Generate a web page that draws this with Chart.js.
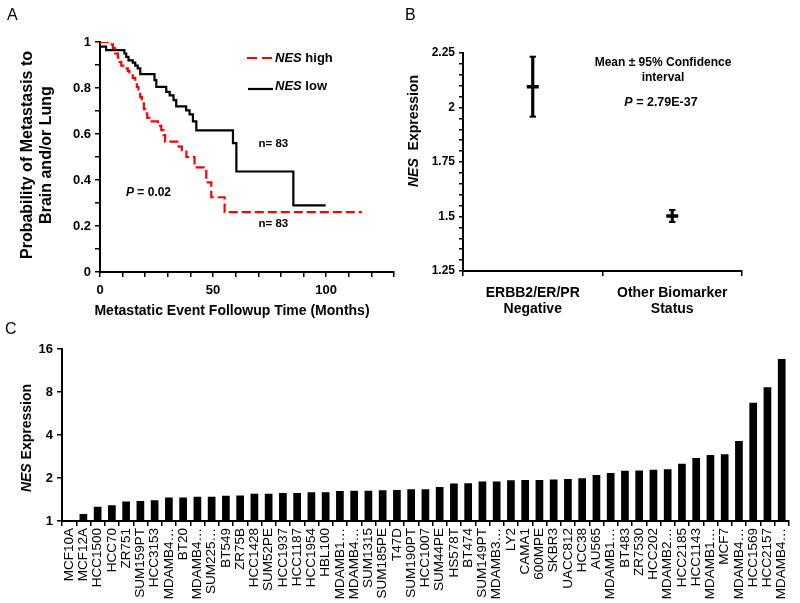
<!DOCTYPE html>
<html><head><meta charset="utf-8">
<script src="https://cdn.jsdelivr.net/npm/chart.js@4.4.1/dist/chart.umd.min.js"></script>
<style>
html,body{margin:0;padding:0;background:#fff;}
#wrap{position:relative;width:800px;height:603px;overflow:hidden;background:#fff;}
canvas{position:absolute;display:block;}
</style></head><body>
<div id="wrap">
<canvas id="cA" width="400" height="318" style="left:0;top:0;width:400px;height:318px"></canvas>
<canvas id="cB" width="400" height="318" style="left:400px;top:0;width:400px;height:318px"></canvas>
<canvas id="cC" width="800" height="285" style="left:0;top:318px;width:800px;height:285px"></canvas>
</div>
<script>
// ---------- Panel A data (Kaplan-Meier steps) ----------
const kmHighTime = [0, 4.2, 5.7, 6.7, 7.9, 8.6, 9.4, 10.8, 12.3, 13, 14.5, 15.6, 16.3, 17, 17.8, 18.5, 19.4, 20, 20.9, 21.9, 25.6, 27.1, 28.1, 28.8, 34.8, 36.2, 38.2, 41.8, 47, 49.2, 55.1, 115.8];
const kmHighProb = [1, 0.99, 0.973, 0.95, 0.932, 0.914, 0.897, 0.885, 0.874, 0.86, 0.844, 0.827, 0.805, 0.78, 0.76, 0.74, 0.708, 0.69, 0.67, 0.655, 0.635, 0.617, 0.595, 0.567, 0.545, 0.53, 0.5, 0.455, 0.39, 0.325, 0.26, 0.26];
const kmLowTime = [0, 2.7, 10.8, 11.6, 12.6, 14.5, 15.6, 16.7, 17.8, 24.1, 24.9, 29.3, 30.8, 32.5, 33.7, 38.1, 39.6, 41.1, 42.6, 58.8, 60.3, 85.5, 99.8];
const kmLowProb = [0.98, 0.965, 0.95, 0.935, 0.92, 0.91, 0.897, 0.885, 0.86, 0.834, 0.805, 0.783, 0.768, 0.747, 0.72, 0.703, 0.685, 0.655, 0.616, 0.56, 0.437, 0.29, 0.29];

// ---------- Panel B data ----------
const bCategories = [['ERBB2/ER/PR', 'Negative'], ['Other Biomarker', 'Status']];
const bMean = [2.095, 1.502];
const bLow = [1.958, 1.475];
const bHigh = [2.233, 1.53];

// ---------- Panel C data ----------
const cLines = ['MCF10A','MCF12A','HCC1500','HCC70','ZR751','SUM159PT','HCC3153','MDAMB4\u2026','BT20','MDAMB4\u2026','SUM225\u2026','BT549','ZR75B','HCC1428','SUM52PE','HCC1937','HCC1187','HCC1954','HBL100','MDAMB1\u2026','MDAMB4\u2026','SUM1315','SUM185PE','T47D','SUM190PT','HCC1007','SUM44PE','HS578T','BT474','SUM149PT','MDAMB3\u2026','LY2','CAMA1','600MPE','SKBR3','UACC812','HCC38','AU565','MDAMB1\u2026','BT483','ZR7530','HCC202','MDAMB2\u2026','HCC2185','HCC1143','MDAMB1\u2026','MCF7','MDAMB4\u2026','HCC1569','HCC2157','MDAMB4\u2026'];
const cValues = [1.0, 1.12, 1.26, 1.29, 1.37, 1.38, 1.40, 1.46, 1.46, 1.48, 1.48, 1.50, 1.51, 1.55, 1.55, 1.57, 1.57, 1.59, 1.59, 1.62, 1.63, 1.63, 1.64, 1.65, 1.67, 1.67, 1.73, 1.83, 1.84, 1.89, 1.89, 1.93, 1.94, 1.94, 1.95, 1.97, 1.99, 2.10, 2.17, 2.25, 2.26, 2.28, 2.30, 2.52, 2.76, 2.90, 2.93, 3.63, 6.73, 8.63, 13.6];
const cTicks = [1, 2, 4, 8, 16];

const FAM = '"Liberation Sans", Arial, Helvetica, sans-serif';
Chart.defaults.font.family = FAM;
Chart.defaults.color = '#000';
Chart.defaults.animation = false;

function txt(ctx, parts, x, y, size, opts) {
  opts = opts || {};
  ctx.save();
  ctx.translate(x, y);
  if (opts.rot) ctx.rotate(opts.rot);
  ctx.textBaseline = 'middle';
  ctx.textAlign = 'left';
  ctx.fillStyle = '#000';
  const fonts = parts.map(p => (p.i ? 'italic ' : '') + (p.n ? '' : 'bold ') + size + 'px ' + FAM);
  const widths = parts.map((p, k) => { ctx.font = fonts[k]; return ctx.measureText(p.t).width; });
  const total = widths.reduce((a, b) => a + b, 0);
  let cx = opts.align === 'left' ? 0 : -total / 2;
  parts.forEach((p, k) => { ctx.font = fonts[k]; ctx.fillText(p.t, cx, 0); cx += widths[k]; });
  ctx.restore();
}

const axisCommon = {
  border: { display: true, color: '#000', width: 2 },
  grid: { display: true, drawOnChartArea: false, drawTicks: true, tickLength: 5, color: '#000', lineWidth: 1.5 }
};

// ---------- Panel A ----------
new Chart(document.getElementById('cA'), {
  type: 'line',
  data: {
    datasets: [
      { data: kmHighTime.map((t, i) => ({ x: t, y: kmHighProb[i] })), borderColor: 'rgb(255,0,0)', borderWidth: 2.2, borderDash: [9, 4], stepped: true, pointRadius: 0, fill: false },
      { data: kmLowTime.map((t, i) => ({ x: t, y: kmLowProb[i] })), borderColor: '#000', borderWidth: 2.2, stepped: true, pointRadius: 0, fill: false }
    ]
  },
  options: {
    responsive: false, animation: false,
    layout: { padding: { left: 0, right: 5, top: 42, bottom: 0 } },
    plugins: { legend: { display: false }, tooltip: { enabled: false } },
    scales: {
      x: Object.assign({}, axisCommon, {
        type: 'linear', min: 0, max: 130,
        ticks: { stepSize: 10, autoSkip: false, maxRotation: 0, padding: 6, font: { size: 13, weight: 'bold' }, callback: v => (v % 50 === 0 ? String(v) : '') },
        afterFit: s => { s.height = 46; }
      }),
      y: Object.assign({}, axisCommon, {
        type: 'linear', min: 0, max: 1,
        ticks: { stepSize: 0.1, autoSkip: false, padding: 4, font: { size: 13, weight: 'bold' }, callback: v => { const k = Math.round(v * 10); return k % 2 === 0 ? String(k / 10) : ''; } },
        afterFit: s => { s.width = 100; }
      })
    }
  },
  plugins: [{
    id: 'annA',
    afterDraw(chart) {
      const ctx = chart.ctx;
      ctx.save();
      ctx.fillStyle = '#000';
      ctx.font = '16px ' + FAM;
      ctx.textBaseline = 'alphabetic';
      ctx.fillText('A', 7, 20);
      ctx.restore();
      txt(ctx, [{ t: 'Probability of Metastasis to' }], 27.5, 155, 16, { rot: -Math.PI / 2 });
      txt(ctx, [{ t: 'Brain and/or Lung' }], 46.5, 155, 16, { rot: -Math.PI / 2 });
      txt(ctx, [{ t: 'Metastatic Event Followup Time (Months)' }], 232, 311, 14);
      // legend
      ctx.save();
      ctx.lineWidth = 2.2;
      ctx.strokeStyle = 'rgb(255,0,0)';
      ctx.setLineDash([10, 5]);
      ctx.beginPath(); ctx.moveTo(247, 58); ctx.lineTo(272, 58); ctx.stroke();
      ctx.setLineDash([]);
      ctx.strokeStyle = '#000';
      ctx.beginPath(); ctx.moveTo(248, 89); ctx.lineTo(273, 89); ctx.stroke();
      ctx.restore();
      txt(ctx, [{ t: 'NES', i: true }, { t: ' high' }], 275, 58, 13, { align: 'left' });
      txt(ctx, [{ t: 'NES', i: true }, { t: ' low' }], 275, 86.5, 13, { align: 'left' });
      txt(ctx, [{ t: 'n= 83' }], 258.5, 143.5, 11.5, { align: 'left' });
      txt(ctx, [{ t: 'n= 83' }], 258.5, 224, 11.5, { align: 'left' });
      txt(ctx, [{ t: 'P', i: true }, { t: ' = 0.02' }], 126, 192.5, 12, { align: 'left' });
    }
  }]
});

// ---------- Panel B ----------
new Chart(document.getElementById('cB'), {
  type: 'bar',
  data: {
    labels: bCategories,
    datasets: [
      { type: 'bar', data: bLow.map((l, i) => [l, bHigh[i]]), backgroundColor: '#000', barThickness: 2.5, order: 5 },
      { type: 'line', data: bHigh, showLine: false, pointStyle: 'line', pointRadius: 3.2, pointBorderWidth: 2, pointBorderColor: '#000', order: 1 },
      { type: 'line', data: bLow, showLine: false, pointStyle: 'line', pointRadius: 3.2, pointBorderWidth: 2, pointBorderColor: '#000', order: 1 },
      { type: 'line', data: bMean, showLine: false, pointStyle: 'line', pointRadius: 6, pointBorderWidth: 3.5, pointBorderColor: '#000', order: 0 }
    ]
  },
  options: {
    responsive: false, animation: false,
    layout: { padding: { left: 0, right: 58, top: 53, bottom: 0 } },
    plugins: { legend: { display: false }, tooltip: { enabled: false } },
    scales: {
      x: Object.assign({}, axisCommon, {
        type: 'category', offset: true,
        grid: Object.assign({}, axisCommon.grid, { offset: true }),
        ticks: { maxRotation: 0, autoSkip: false, padding: 9, font: { size: 14, weight: 'bold', lineHeight: 1.15 } },
        afterFit: s => { s.height = 47; }
      }),
      y: Object.assign({}, axisCommon, {
        type: 'linear', min: 1.25, max: 2.25,
        grid: Object.assign({}, axisCommon.grid, { tickLength: 4 }),
        ticks: { stepSize: 0.05, autoSkip: false, padding: 4, font: { size: 12, weight: 'bold' }, callback: v => (Math.abs(v * 4 - Math.round(v * 4)) < 1e-6 ? String(parseFloat(v.toFixed(2))) : '') },
        afterFit: s => { s.width = 63; }
      })
    }
  },
  plugins: [{
    id: 'annB',
    afterDraw(chart) {
      const ctx = chart.ctx;
      ctx.save();
      ctx.fillStyle = '#000';
      ctx.font = '16px ' + FAM;
      ctx.textBaseline = 'alphabetic';
      ctx.fillText('B', 5, 20);
      ctx.restore();
      txt(ctx, [{ t: 'NES', i: true }, { t: '  Expression' }], 14, 131, 14, { rot: -Math.PI / 2 });
      txt(ctx, [{ t: 'Mean \u00b1 95% Confidence' }], 263, 63, 12);
      txt(ctx, [{ t: 'interval' }], 263, 78, 12);
      txt(ctx, [{ t: 'P', i: true }, { t: ' = 2.79E-37' }], 261, 103, 12.5);
    }
  }]
});

// ---------- Panel C ----------
new Chart(document.getElementById('cC'), {
  type: 'bar',
  data: {
    labels: cLines,
    datasets: [{ data: cValues, backgroundColor: '#000', borderWidth: 0, categoryPercentage: 1, barPercentage: 0.54 }]
  },
  options: {
    responsive: false, animation: false,
    layout: { padding: { left: 0, right: 10, top: 31, bottom: 0 } },
    plugins: { legend: { display: false }, tooltip: { enabled: false } },
    scales: {
      x: Object.assign({}, axisCommon, {
        type: 'category', offset: true,
        grid: Object.assign({}, axisCommon.grid, { offset: true }),
        ticks: { autoSkip: false, minRotation: 90, maxRotation: 90, padding: 2, font: { size: 13.5, weight: 'normal' } },
        afterFit: s => { s.height = 82; }
      }),
      y: Object.assign({}, axisCommon, {
        type: 'logarithmic', min: 1, max: 16,
        afterBuildTicks: s => { s.ticks = cTicks.map(v => ({ value: v })); },
        ticks: { autoSkip: false, padding: 4, font: { size: 13, weight: 'bold' }, callback: v => String(v) },
        afterFit: s => { s.width = 62; }
      })
    }
  },
  plugins: [{
    id: 'annC',
    afterDraw(chart) {
      const ctx = chart.ctx;
      ctx.save();
      ctx.fillStyle = '#000';
      ctx.font = '16px ' + FAM;
      ctx.textBaseline = 'alphabetic';
      ctx.fillText('C', 5, 15.5);
      ctx.restore();
      txt(ctx, [{ t: 'NES', i: true }, { t: ' Expression' }], 27, 120, 14, { rot: -Math.PI / 2 });
    }
  }]
});
</script>
</body></html>
